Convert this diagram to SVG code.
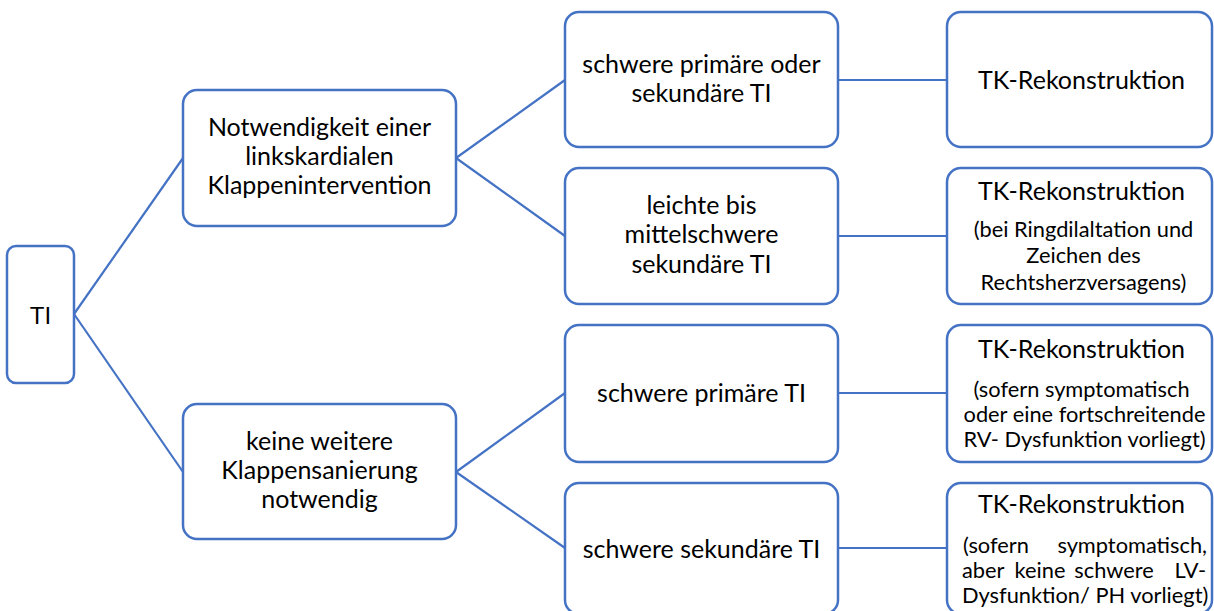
<svg xmlns="http://www.w3.org/2000/svg" width="1214" height="611" viewBox="0 0 1214 611">
<style>
.box{fill:#fff;stroke:#4472C4;stroke-width:2.5}
.con line{stroke:#4472C4;stroke-width:2.2}
text{font-family:Lato,"Liberation Sans",sans-serif;fill:#000;text-anchor:middle}
.m{font-size:25px}
.s{font-size:21.8px}
.ti{font-family:"Liberation Sans",Arial,sans-serif;font-size:24px}
.l{text-anchor:start}
.e{text-anchor:end}
</style>
<rect width="1214" height="611" fill="#fff"/>
<g id="connectors" class="con">
<line x1="74" y1="314" x2="183" y2="158"/>
<line x1="74" y1="314" x2="183" y2="472"/>
<line x1="456" y1="158" x2="565" y2="80"/>
<line x1="456" y1="158" x2="565" y2="236"/>
<line x1="456" y1="472" x2="565" y2="393"/>
<line x1="456" y1="472" x2="565" y2="548"/>
<line x1="838" y1="80" x2="947" y2="80"/>
<line x1="838" y1="236" x2="947" y2="236"/>
<line x1="838" y1="393" x2="947" y2="393"/>
<line x1="838" y1="548" x2="947" y2="548"/>
</g>
<g id="n-ti">
<rect class="box" x="7" y="246" width="67" height="137" rx="9"/>
<text class="ti" x="40.5" y="324">TI</text>
</g>
<g id="n-links">
<rect class="box" x="183" y="90" width="273" height="136" rx="14"/>
<text class="m" x="319.5" y="136">Notwendigkeit einer</text>
<text class="m" x="319.5" y="165">linkskardialen</text>
<text class="m" x="319.5" y="194">Klappenintervention</text>
</g>
<g id="n-keine">
<rect class="box" x="183" y="404" width="273" height="135" rx="14"/>
<text class="m" x="319.5" y="450">keine weitere</text>
<text class="m" x="319.5" y="479">Klappensanierung</text>
<text class="m" x="319.5" y="508">notwendig</text>
</g>
<g id="n-c1">
<rect class="box" x="565" y="12" width="273" height="135" rx="14"/>
<text class="m" x="701.5" y="73">schwere primäre oder</text>
<text class="m" x="701.5" y="102">sekundäre TI</text>
</g>
<g id="n-c2">
<rect class="box" x="565" y="168" width="273" height="136" rx="14"/>
<text class="m" x="701.5" y="214">leichte bis</text>
<text class="m" x="701.5" y="243">mittelschwere</text>
<text class="m" x="701.5" y="273">sekundäre TI</text>
</g>
<g id="n-c3">
<rect class="box" x="565" y="325" width="273" height="137" rx="14"/>
<text class="m" x="701.5" y="402">schwere primäre TI</text>
</g>
<g id="n-c4">
<rect class="box" x="565" y="483" width="273" height="131" rx="14"/>
<text class="m" x="701.5" y="558">schwere sekundäre TI</text>
</g>
<g id="n-d1">
<rect class="box" x="947" y="12" width="265" height="135" rx="14"/>
<text class="m" x="1081.5" y="89">TK-Rekonstruktion</text>
</g>
<g id="n-d2">
<rect class="box" x="947" y="168" width="265" height="136" rx="14"/>
<text class="m" x="1081.5" y="200">TK-Rekonstruktion</text>
<text class="s" x="1083.5" y="237">(bei Ringdilaltation und</text>
<text class="s" x="1083.5" y="263">Zeichen des</text>
<text class="s" x="1083.5" y="290">Rechtsherzversagens)</text>
</g>
<g id="n-d3">
<rect class="box" x="947" y="325" width="265" height="137" rx="14"/>
<text class="m" x="1081.5" y="358">TK-Rekonstruktion</text>
<text class="s" x="1081.5" y="397">(sofern symptomatisch</text>
<text class="s" x="1084.5" y="422">oder eine fortschreitende</text>
<text class="s" x="1084.5" y="447">RV- Dysfunktion vorliegt)</text>
</g>
<g id="n-d4">
<rect class="box" x="947" y="483" width="265" height="131" rx="14"/>
<text class="m" x="1081.5" y="513">TK-Rekonstruktion</text>
<text class="s l" x="963" y="553">(sofern</text>
<text class="s e" x="1207" y="553">symptomatisch,</text>
<text class="s l" x="962" y="578">aber</text>
<text class="s" x="1040" y="578">keine</text>
<text class="s" x="1114" y="578">schwere</text>
<text class="s e" x="1206" y="578">LV-</text>
<text class="s l" x="962" y="603">Dysfunktion/ PH vorliegt)</text>
</g>
</svg>
